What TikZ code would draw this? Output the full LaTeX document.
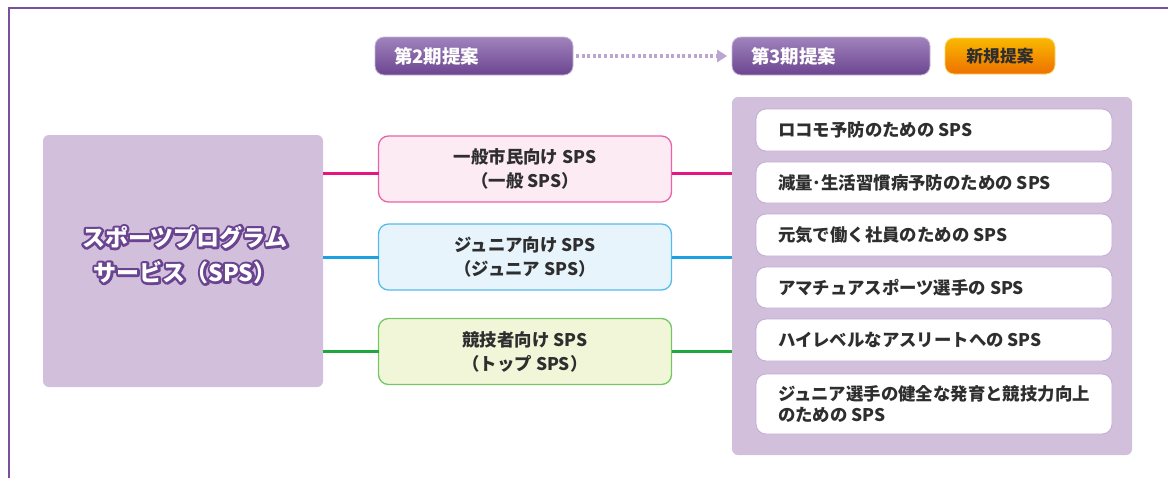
\documentclass[tikz,border=0pt]{standalone}
\usepackage{fontspec}
\setmainfont{Noto Sans CJK JP}
\usetikzlibrary{arrows.meta,calc}
\definecolor{frameP}{HTML}{7B4FA0}
\definecolor{panelP}{HTML}{D1BFDC}
\definecolor{itemD}{HTML}{C2ABD4}
\definecolor{hdTop}{HTML}{A083BC}
\definecolor{hdBot}{HTML}{6C4590}
\definecolor{orTop}{HTML}{F9B900}
\definecolor{orBot}{HTML}{EE7000}
\definecolor{txt}{HTML}{2E2E2E}
\definecolor{pinkL}{HTML}{E6157F}
\definecolor{pinkF}{HTML}{FCEBF3}
\definecolor{pinkD}{HTML}{EA63A8}
\definecolor{blueL}{HTML}{1CA1E0}
\definecolor{blueF}{HTML}{E8F4FC}
\definecolor{blueD}{HTML}{55BBEA}
\definecolor{greenL}{HTML}{1FA83E}
\definecolor{greenF}{HTML}{F1F6D9}
\definecolor{greenD}{HTML}{74C864}
\definecolor{outP}{HTML}{6A4490}
\definecolor{dotP}{HTML}{BCA5D1}
\newcommand{\strokeon}{\special{pdf:literal direct 2 Tr 4.8 w 1 j}}
\newcommand{\strokeoff}{\special{pdf:literal direct 0 Tr}}
\tikzset{
  box/.style={rectangle, inner sep=0pt, outer sep=0pt},
  hdr/.style={box, rounded corners=9pt, top color=hdTop, bottom color=hdBot,
    draw=hdTop!60!white, line width=0.8pt, minimum width=198pt, minimum height=38pt,
    text width=160pt, inner xsep=19pt, align=left, text=white,
    font=\fontsize{18.5}{20}\selectfont\bfseries},
  newbox/.style={box, rounded corners=9pt, top color=orTop, bottom color=orBot,
    draw=orTop!60!white, line width=0.8pt, minimum width=110pt, minimum height=36pt,
    text=txt, font=\fontsize{16.8}{20}\selectfont\bfseries},
  panel/.style={box, fill=panelP, rounded corners=6pt},
  item/.style={box, fill=white, draw=itemD, line width=0.8pt, rounded corners=10pt,
    minimum width=356pt},
  itemtxt/.style={box, anchor=west, align=left, text=txt,
    font=\fontsize{17.4}{21.5}\selectfont\bfseries},
  mid/.style={box, rounded corners=10pt, line width=1.3pt, minimum width=293pt,
    minimum height=66pt, align=center, text=txt,
    font=\fontsize{17.4}{24}\selectfont\bfseries},
  conn/.style={line width=3pt},
  bigtxt/.style={box, align=center, font=\fontsize{23}{35}\selectfont\bfseries},
  dotarrow/.style={dotP, line width=3.2pt, dash pattern=on 3pt off 2.6pt,
    shorten <=3pt, shorten >=5pt,
    -{Triangle[length=10pt,width=13pt,fill=dotP,line width=0pt]}}
}
\begin{document}
\begin{tikzpicture}[x=1pt,y=-1pt]
\useasboundingbox (0,0) rectangle (1168,477);
% frame
\draw[frameP, line width=2.6pt] (9,480) -- (9,8) -- (1170,8);
% left main box
\node[panel, minimum width=280pt, minimum height=252pt] (left) at (183,261) {};
\node[bigtxt, text=outP] (leftoutline) at ($(left.center)+(2,-6)$)
  {\strokeon スポーツプログラム\\\strokeon サービス（SPS）\strokeoff};
\node[bigtxt, text=white] (lefttxt) at ($(left.center)+(2,-6)$)
  {スポーツプログラム\\サービス（SPS）};
% headers
\node[hdr] (h2) at (474,56) {第2期提案};
\node[hdr] (h3) at (831,56) {第3期提案};
\node[newbox] (nw) at (1000,56) {新規提案};
\draw[dotarrow] (h2.east) -- (h3.west);
% right panel
\node[panel, minimum width=400pt, minimum height=358pt] (panel) at (932,276) {};
\node[item, minimum height=42pt] (i1) at (934,130) {};
\node[item, minimum height=41pt] (i2) at (934,182.5) {};
\node[item, minimum height=42pt] (i3) at (934,235) {};
\node[item, minimum height=41pt] (i4) at (934,287.5) {};
\node[item, minimum height=42pt] (i5) at (934,340) {};
\node[item, minimum height=60pt] (i6) at (934,404) {};
\node[itemtxt] (t1) at ([xshift=22pt]i1.west) {ロコモ予防のための SPS};
\node[itemtxt] (t2) at ([xshift=22pt]i2.west) {減量･生活習慣病予防のための SPS};
\node[itemtxt] (t3) at ([xshift=22pt]i3.west) {元気で働く社員のための SPS};
\node[itemtxt] (t4) at ([xshift=22pt]i4.west) {アマチュアスポーツ選手の SPS};
\node[itemtxt] (t5) at ([xshift=22pt]i5.west) {ハイレベルなアスリートへの SPS};
\node[itemtxt] (t6) at ([xshift=22pt]i6.west) {ジュニア選手の健全な発育と競技力向上\\のための SPS};
% middle boxes
\node[mid, fill=pinkF, draw=pinkD] (pink) at (525,169) {一般市民向け SPS\\（一般 SPS）};
\node[mid, fill=blueF, draw=blueD] (blue) at (525,257) {ジュニア向け SPS\\（ジュニア SPS）};
\node[mid, fill=greenF, draw=greenD] (green) at (525,351.5) {競技者向け SPS\\（トップ SPS）};
% connectors
\coordinate (pL) at ([yshift=-4pt]pink.west);
\coordinate (pR) at ([yshift=-4pt]pink.east);
\draw[conn, pinkL] (pL -| left.east) -- (pL);
\draw[conn, pinkL] (pR) -- (pR -| panel.west);
\draw[conn, blueL] (blue.west -| left.east) -- (blue.west);
\draw[conn, blueL] (blue.east) -- (blue.east -| panel.west);
\draw[conn, greenL] (green.west -| left.east) -- (green.west);
\draw[conn, greenL] (green.east) -- (green.east -| panel.west);
\end{tikzpicture}
\end{document}
